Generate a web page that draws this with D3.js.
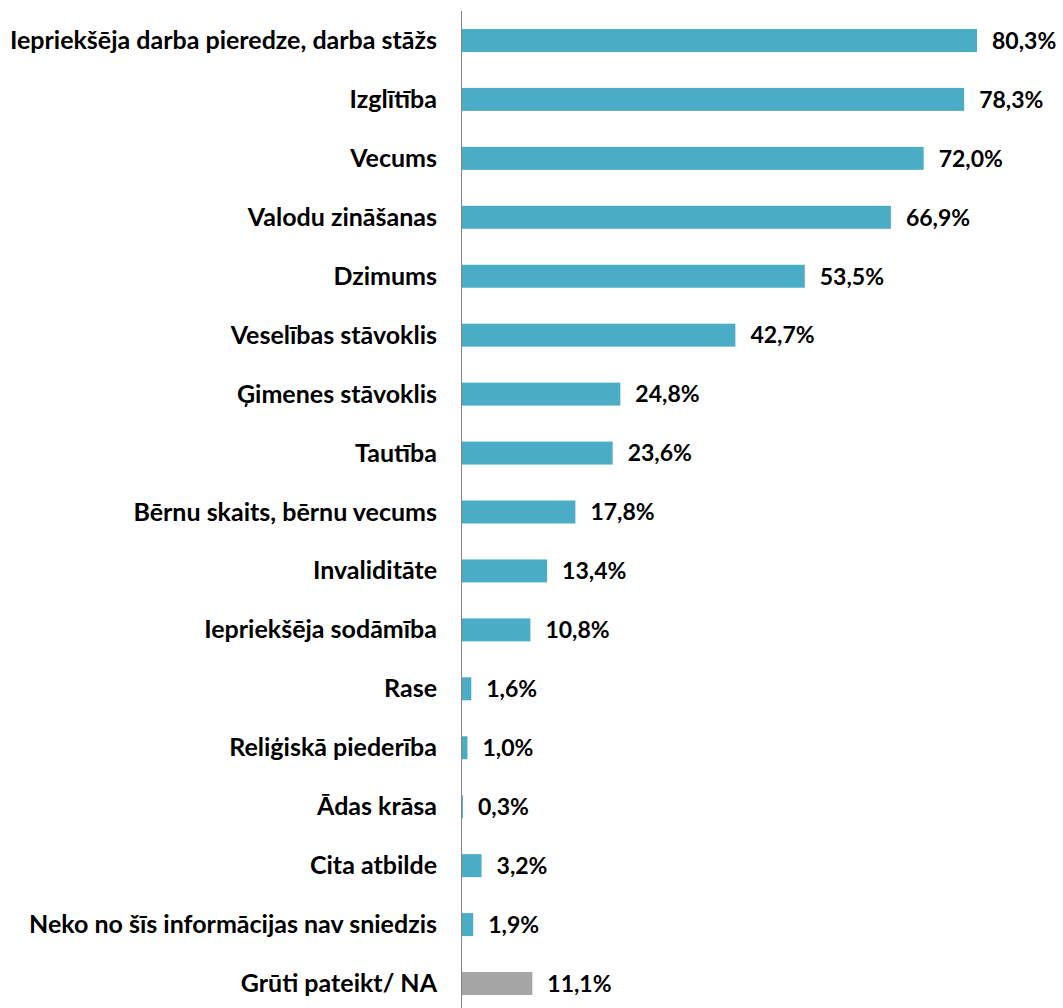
<!DOCTYPE html>
<html lang="lv">
<head>
<meta charset="utf-8">
<title>Chart</title>
<style>
  body { margin: 0; background: #fff; }
  text { font-family: Lato, "Open Sans", sans-serif; font-weight: bold; fill: #000; }
</style>
</head>
<body>
<svg width="1063" height="1008"></svg>
<script src="https://d3js.org/d3.v7.min.js"></script>
<script>

var categories = [
    "Iepriekšēja darba pieredze, darba stāžs",
    "Izglītība",
    "Vecums",
    "Valodu zināšanas",
    "Dzimums",
    "Veselības stāvoklis",
    "Ģimenes stāvoklis",
    "Tautība",
    "Bērnu skaits, bērnu vecums",
    "Invaliditāte",
    "Iepriekšēja sodāmība",
    "Rase",
    "Reliģiskā piederība",
    "Ādas krāsa",
    "Cita atbilde",
    "Neko no šīs informācijas nav sniedzis",
    "Grūti pateikt/ NA"
];
var values = [80.3, 78.3, 72.0, 66.9, 53.5, 42.7, 24.8, 23.6, 17.8, 13.4, 10.8, 1.6, 1.0, 0.3, 3.2, 1.9, 11.1];
var greyItems = ["Grūti pateikt/ NA"];

var svg = d3.select("svg"),
    axisX = 461;

var x = d3.scaleLinear()
    .domain([0, 90])
    .range([axisX, axisX + 90 * 516 / 80.3]);

var y = d3.scaleBand()
    .domain(categories)
    .range([11, 1013])
    .paddingInner(0.61)
    .paddingOuter(0.305);

var data = categories.map(function(c, i) { return { name: c, value: values[i] }; });

svg.selectAll("rect.bar")
    .data(data)
    .enter().append("rect")
    .attr("class", "bar")
    .attr("x", x(0))
    .attr("y", function(d) { return y(d.name); })
    .attr("width", function(d) { return x(d.value) - x(0); })
    .attr("height", y.bandwidth())
    .attr("fill", function(d) { return greyItems.indexOf(d.name) >= 0 ? "#a5a5a5" : "#4bacc6"; });

// value labels
svg.selectAll("text.val")
    .data(data)
    .enter().append("text")
    .attr("class", "val")
    .attr("x", function(d) { return x(d.value) + 15; })
    .attr("y", function(d) { return y(d.name) + y.bandwidth() / 2; })
    .attr("dy", "0.36em")
    .attr("font-size", 23)
    .text(function(d) { return d.value.toFixed(1).replace(".", ",") + "%"; });

// category axis
var yAxis = d3.axisLeft(y).tickSize(0).tickPadding(24);
var g = svg.append("g")
    .attr("transform", "translate(" + axisX + ",0)")
    .call(yAxis);
g.select(".domain").attr("stroke", "#868686").attr("d", "M0.5,11V1008");
g.selectAll(".tick text")
    .attr("font-size", 25)
    .attr("dy", "0.34em")
    .attr("font-family", "Lato, 'Open Sans', sans-serif")
    .attr("font-weight", "bold")
    .attr("fill", "#000");

</script>
</body>
</html>
